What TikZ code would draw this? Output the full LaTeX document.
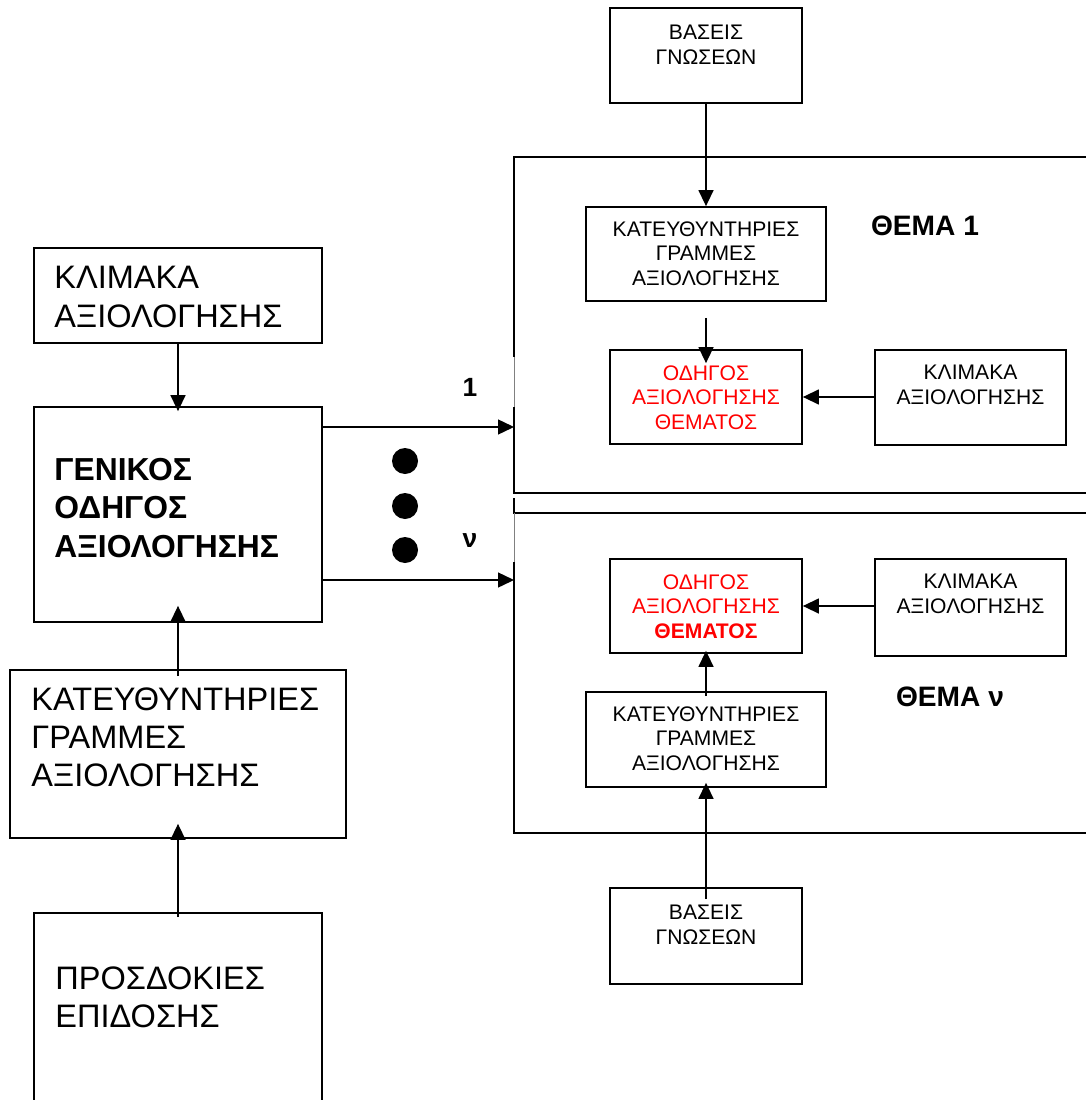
\documentclass[tikz,border=0pt]{standalone}
\usepackage{xcolor}
\usepackage{tikz}
\usepackage{fontspec}
\setmainfont{Liberation Sans}
\usetikzlibrary{shapes,arrows.meta,positioning,calc}

\begin{document}
\begin{tikzpicture}[
    x=0.2mm, y=-0.2mm,
    box/.style={rectangle, draw=black, line width=1pt, inner sep=0pt},
    bigtxt/.style={font=\fontsize{18.5}{21.8}\selectfont, align=left, inner sep=0pt, anchor=north west},
    smalltxt/.style={font=\fontsize{12}{14}\selectfont, align=center, inner sep=0pt, anchor=north},
    headtxt/.style={font=\fontsize{16}{18}\selectfont\bfseries, inner sep=0pt},
    dot/.style={circle, fill=black, inner sep=0pt, minimum size=5.2mm},
    edge/.style={line width=1pt},
    message/.style={line width=0.8pt, -{Triangle[length=3.2mm, width=3mm]}}
]
\useasboundingbox (0,0) rectangle (1085,1100);

% Left column
\node[box, minimum width=57.6mm, minimum height=19mm] (klL) at (178,295.5) {};
\node[box, minimum width=57.6mm, minimum height=43mm] (genL) at (178,514.5) {};
\node[box, minimum width=67.2mm, minimum height=33.6mm] (katL) at (178,754) {};
\node[box, minimum width=57.6mm, minimum height=39.4mm] (prL) at (178,1011.5) {};

\node[bigtxt, below right=3.8mm and 4.2mm of klL.north west] (klLtxt) {ΚΛΙΜΑΚΑ\\ΑΞΙΟΛΟΓΗΣΗΣ};
\node[bigtxt, font=\fontsize{18.1}{21.8}\selectfont\bfseries, below right=10.4mm and 4.2mm of genL.north west] (genLtxt) {ΓΕΝΙΚΟΣ\\ΟΔΗΓΟΣ\\ΑΞΙΟΛΟΓΗΣΗΣ};
\node[bigtxt, below right=3.6mm and 4.4mm of katL.north west] (katLtxt) {ΚΑΤΕΥΘΥΝΤΗΡΙΕΣ\\ΓΡΑΜΜΕΣ\\ΑΞΙΟΛΟΓΗΣΗΣ};
\node[bigtxt, below right=10.8mm and 4.4mm of prL.north west] (prLtxt) {ΠΡΟΣΔΟΚΙΕΣ\\ΕΠΙΔΟΣΗΣ};

% Frames
\draw[edge] (1100,157) -- (514,157) -- (514,357);
\draw[gray, line width=0.4pt] (514,357) -- (514,407);
\draw[edge] (514,407) -- (514,493) -- (1100,493);
\draw[edge] (514,498) -- (514,513) -- (1100,513);
\draw[gray, line width=0.4pt] (514,513) -- (514,562);
\draw[edge] (514,562) -- (514,833) -- (1100,833);
\coordinate (in1) at (514,427);
\coordinate (inN) at (514,580);

% Topic 1
\node[box, minimum width=38.4mm, minimum height=19mm] (vasT) at (706,55.5) {};
\node[box, minimum width=48mm, minimum height=18.8mm] (katT) at (706,254) {};
\node[box, minimum width=38.4mm, minimum height=18.8mm] (odT) at (706,397) {};
\node[box, minimum width=38.2mm, minimum height=19mm] (klT) at (970.5,397.5) {};
\node[smalltxt, below=3.5mm of vasT.north] (vasTtxt) {ΒΑΣΕΙΣ\\ΓΝΩΣΕΩΝ};
\node[smalltxt, below=3mm of katT.north] (katTtxt) {ΚΑΤΕΥΘΥΝΤΗΡΙΕΣ\\ΓΡΑΜΜΕΣ\\ΑΞΙΟΛΟΓΗΣΗΣ};
\node[smalltxt, red, below=3.2mm of odT.north] (odTtxt) {ΟΔΗΓΟΣ\\ΑΞΙΟΛΟΓΗΣΗΣ\\ΘΕΜΑΤΟΣ};
\node[smalltxt, below=3.2mm of klT.north] (klTtxt) {ΚΛΙΜΑΚΑ\\ΑΞΙΟΛΟΓΗΣΗΣ};
\node[headtxt] (thema1) at (925,226) {ΘΕΜΑ 1};

% Topic v
\node[box, minimum width=38.4mm, minimum height=18.8mm] (odB) at (706,606) {};
\node[box, minimum width=38.2mm, minimum height=19.4mm] (klB) at (970.5,607.5) {};
\node[box, minimum width=48mm, minimum height=19mm] (katB) at (706,739.5) {};
\node[box, minimum width=38.4mm, minimum height=19.2mm] (vasB) at (706,936) {};
\node[smalltxt, red, below=3.2mm of odB.north] (odBtxt) {ΟΔΗΓΟΣ\\ΑΞΙΟΛΟΓΗΣΗΣ\\\textbf{ΘΕΜΑΤΟΣ}};
\node[smalltxt, below=3.2mm of klB.north] (klBtxt) {ΚΛΙΜΑΚΑ\\ΑΞΙΟΛΟΓΗΣΗΣ};
\node[smalltxt, below=3mm of katB.north] (katBtxt) {ΚΑΤΕΥΘΥΝΤΗΡΙΕΣ\\ΓΡΑΜΜΕΣ\\ΑΞΙΟΛΟΓΗΣΗΣ};
\node[smalltxt, below=3.5mm of vasB.north] (vasBtxt) {ΒΑΣΕΙΣ\\ΓΝΩΣΕΩΝ};
\node[headtxt] (themaN) at (950,697) {ΘΕΜΑ ν};

% Dots and labels
\node[dot] (d1) at (405,461) {};
\node[dot] (d2) at (405,506) {};
\node[dot] (d3) at (405,550) {};
\node[headtxt, font=\fontsize{15}{18}\selectfont\bfseries] (lbl1) at (470,387) {1};
\node[headtxt, font=\fontsize{15}{18}\selectfont\bfseries] (lblN) at (470,541) {ν};

% Messages
\draw[message] (klL.south) -- ([yshift=-1mm]genL.north);
\draw[message] ([yshift=-1.4mm]genL.south |- katL.north) -- ([yshift=3.4mm]genL.south);
\draw[message] ([yshift=-1mm]prL.north) -- ([yshift=3mm]prL.north |- katL.south);
\draw[message] (genL.east |- in1) -- (in1);
\draw[message] (genL.east |- inN) -- (inN);
\draw[message] (vasT.south) -- (katT.north);
\draw[message] ([yshift=-3.2mm]katT.south) -- ([yshift=-2.8mm]odT.north);
\draw[message] (klT.west |- odT.east) -- (odT.east);
\draw[message] (klB.west |- odB.east) -- (odB.east);
\draw[message] ([yshift=-1mm]katB.north) -- ([yshift=0.6mm]odB.south);
\draw[message] ([yshift=-2.4mm]vasB.north) -- ([yshift=1mm]katB.south);

\end{tikzpicture}
\end{document}
